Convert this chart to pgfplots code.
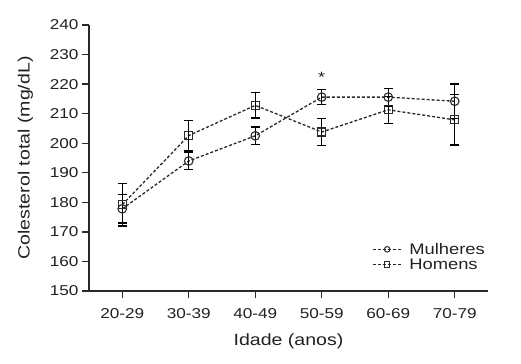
\documentclass[border=0pt]{standalone}
\usepackage{fontspec}
\setmainfont{Liberation Sans}[FakeStretch=1.2]
\usepackage{pgfplots}
\pgfplotsset{compat=1.18}
\definecolor{ink}{HTML}{222222}
\definecolor{axc}{HTML}{2a2a2a}
\begin{document}
\begin{tikzpicture}
\useasboundingbox (-89bp,-73bp) rectangle (432bp,291bp);
\begin{axis}[
  at={(0,0)}, anchor=south west,
  scale only axis, width=399bp, height=266bp,
  xmin=-0.5, xmax=5.5, ymin=150, ymax=240,
  axis x line*=bottom, axis y line*=left,
  axis line style={axc, line width=1.4bp},
  xtick={0,1,2,3,4,5},
  xticklabels={20-29,30-39,40-49,50-59,60-69,70-79},
  ytick={150,160,...,240},
  tick align=outside,
  major tick length=7bp,
  tick style={axc, line width=1.3bp},
  /pgf/number format/assume math mode=true,
  tick label style={font=\fontsize{14.3bp}{16bp}\selectfont, text=ink},
  xticklabel style={yshift=-7bp},
  label style={font=\fontsize{16.3bp}{18bp}\selectfont, text=ink},
  xlabel={Idade (anos)},
  xlabel style={yshift=-8bp},
  ylabel={Colesterol total (mg/dL)},
  ylabel style={yshift=10bp},
  legend style={at={(0.995,0.072)}, anchor=south east, draw=none, fill=none,
    font=\fontsize{15.3bp}{18bp}\selectfont, text=ink, inner sep=0pt,
    row sep=1bp, column sep=6bp, nodes={inner sep=1bp}},
  legend cell align=left,
  legend image code/.code={%
    \draw[#1] (0bp,0bp) -- (29bp,0bp);
    \draw[#1, mark size=2.8bp] plot coordinates {(14.5bp,0bp)};},
  clip=false,
]
\addlegendimage{axc, line width=1.2bp, dash pattern=on 3bp off 2bp,
  mark=o, mark options={solid, line width=1bp, fill=white}}
\addlegendentry{Mulheres}
\addlegendimage{axc, line width=1.2bp, dash pattern=on 3bp off 2bp,
  mark=square, mark options={solid, line width=1bp, fill=white}}
\addlegendentry{Homens}
\addplot[forget plot, axc, line width=1.3bp, dash pattern=on 3bp off 2bp,
  mark=o, mark size=4.3bp, mark options={solid, line width=1.1bp, fill=white},
  error bars/.cd, y dir=both, y explicit,
  error bar style={black, solid, line width=1.3bp},
  error mark options={rotate=90, mark size=4.4bp, line width=1.3bp, black}]
  coordinates {
  (0,177.8) +- (0,4.8)
  (1,194.0) +- (0,3.0)
  (2,202.5) +- (0,3.0)
  (3,215.6) +- (0,2.6)
  (4,215.6) +- (0,3.0)
  (5,214.2) +- (0,5.8)
};
\addplot[forget plot, axc, line width=1.3bp, dash pattern=on 3bp off 2bp,
  mark=square, mark size=4.0bp, mark options={solid, line width=1.1bp, fill=none},
  error bars/.cd, y dir=both, y explicit,
  error bar style={black, solid, line width=1.3bp},
  error mark options={rotate=90, mark size=4.4bp, line width=1.3bp, black}]
  coordinates {
  (0,179.2) +- (0,7.2)
  (1,202.6) +- (0,5.0)
  (2,212.8) +- (0,4.3)
  (3,203.8) +- (0,4.5)
  (4,211.3) +- (0,4.6)
  (5,207.9) +- (0,8.5)
};
\node[font=\fontsize{15bp}{18bp}\selectfont, text=ink] at (axis cs:3,222.3) {*};
\end{axis}
\end{tikzpicture}
\end{document}
